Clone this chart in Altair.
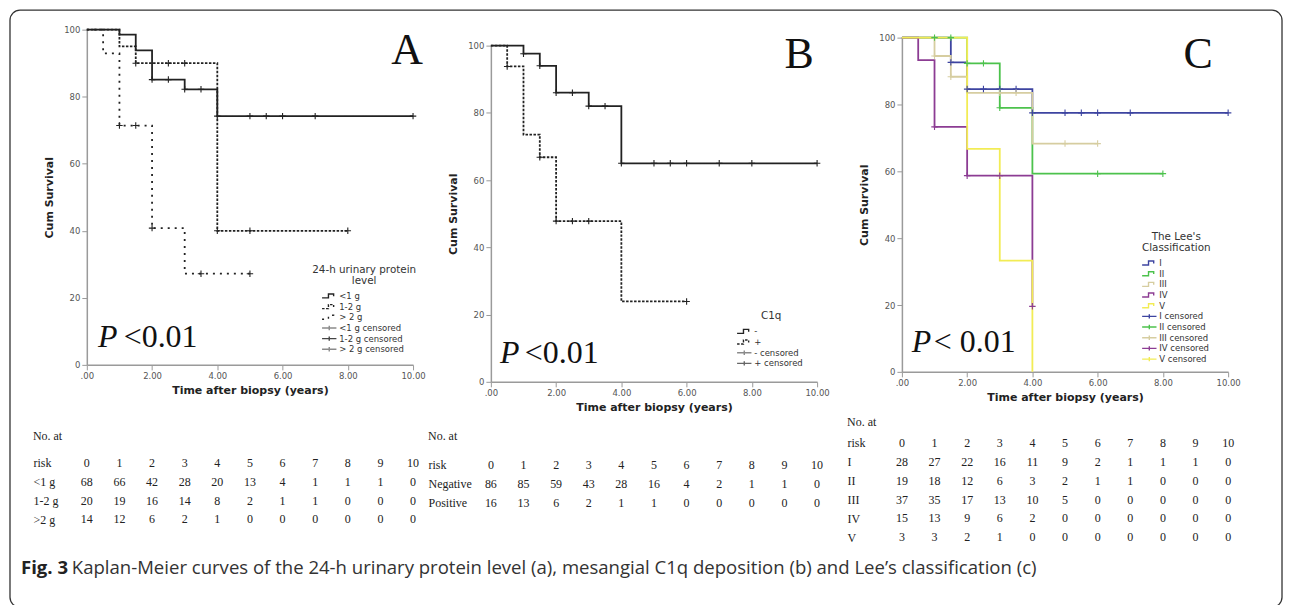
import altair as alt
import pandas as pd

# ---------------- Panel A : 24-h urinary protein level ----------------
A_lt1_time = [0, 1.0, 1.5, 2.0, 3.0, 4.0, 10.0]
A_lt1_surv = [100, 98.5, 93.8, 85.1, 82.2, 74.2, 74.2]
A_lt1_cens = [2.0, 2.5, 3.0, 3.5, 4.0, 5.0, 5.5, 6.0, 7.0, 10.0]
A_mid_time = [0, 1.0, 1.5, 4.0, 8.0]
A_mid_surv = [100, 95.0, 90.0, 40.0, 40.0]
A_mid_cens = [1.5, 2.5, 3.0, 4.0, 5.0, 8.0]
A_gt2_time = [0, 0.5, 1.0, 2.0, 3.0, 5.0]
A_gt2_surv = [100, 92.9, 71.4, 40.8, 27.2, 27.2]
A_gt2_cens = [1.0, 1.5, 2.0, 3.5, 5.0]
A_legend = ["<1 g", "1-2 g", "> 2 g", "<1 g censored", "1-2 g censored", "> 2 g censored"]
A_rows = ["<1 g", "1-2 g", ">2 g"]
A_risk_lt1 = [68, 66, 42, 28, 20, 13, 4, 1, 1, 1, 0]
A_risk_mid = [20, 19, 16, 14, 8, 2, 1, 1, 0, 0, 0]
A_risk_gt2 = [14, 12, 6, 2, 1, 0, 0, 0, 0, 0, 0]

# ---------------- Panel B : mesangial C1q ----------------
B_neg_time = [0, 1.0, 1.5, 2.0, 3.0, 4.0, 10.0]
B_neg_surv = [100, 97.6, 94.0, 86.0, 82.0, 65.0, 65.0]
B_neg_cens = [1.0, 1.5, 2.0, 2.5, 3.0, 3.5, 4.0, 5.0, 5.5, 6.0, 7.0, 8.0, 10.0]
B_pos_time = [0, 0.5, 1.0, 1.5, 2.0, 4.0, 6.0]
B_pos_surv = [100, 93.8, 73.5, 66.8, 47.8, 23.9, 23.9]
B_pos_cens = [0.5, 1.5, 2.0, 2.5, 3.0, 6.0]
B_legend = ["-", "+", "- censored", "+ censored"]
B_rows = ["Negative", "Positive"]
B_risk_neg = [86, 85, 59, 43, 28, 16, 4, 2, 1, 1, 0]
B_risk_pos = [16, 13, 6, 2, 1, 1, 0, 0, 0, 0, 0]

# ---------------- Panel C : Lee's classification ----------------
C_I_time = [0, 1.5, 2.0, 4.0, 10.0]
C_I_surv = [100, 92.6, 84.6, 77.5, 77.5]
C_I_cens = [1.5, 2.0, 2.5, 3.0, 3.5, 4.0, 5.0, 5.5, 6.0, 7.0, 10.0]
C_II_time = [0, 2.0, 3.0, 4.0, 8.0]
C_II_surv = [100, 92.3, 79.0, 59.3, 59.3]
C_II_cens = [1.0, 1.5, 2.0, 2.5, 3.0, 6.0, 8.0]
C_III_time = [0, 1.0, 1.5, 2.0, 4.0, 6.0]
C_III_surv = [100, 94.5, 88.3, 83.5, 68.3, 68.3]
C_III_cens = [1.0, 1.5, 3.0, 3.5, 5.0, 6.0]
C_IV_time = [0, 0.5, 1.0, 2.0, 4.0]
C_IV_surv = [100, 93.3, 73.3, 58.7, 19.6]
C_IV_cens = [1.0, 2.0, 3.0, 4.0]
C_V_time = [0, 2.0, 3.0, 4.0]
C_V_surv = [100, 66.7, 33.3, 0.0]
C_V_cens = []
C_legend = ["I", "II", "III", "IV", "V",
            "I censored", "II censored", "III censored", "IV censored", "V censored"]
C_rows = ["I", "II", "III", "IV", "V"]
C_risk_I = [28, 27, 22, 16, 11, 9, 2, 1, 1, 1, 0]
C_risk_II = [19, 18, 12, 6, 3, 2, 1, 1, 0, 0, 0]
C_risk_III = [37, 35, 17, 13, 10, 5, 0, 0, 0, 0, 0]
C_risk_IV = [15, 13, 9, 6, 2, 0, 0, 0, 0, 0, 0]
C_risk_V = [3, 3, 2, 1, 0, 0, 0, 0, 0, 0, 0]

YEARS = list(range(11))
CAPTION_FIG = "Fig. 3"
CAPTION_TEXT = ("Kaplan-Meier curves of the 24-h urinary protein level (a), mesangial C1q "
                "deposition (b) and Lee\u2019s classification (c)")

# ---------------- styling ----------------
STEP = "M-1.8,0.5L-0.2,0.5L-0.2,-0.5L1.1,-0.5L1.1,0.1"
PLUS = "M-1.8,0L1.8,0M0,-0.55L0,0.55"
CROSS = "M-1,0L1,0M0,-1L0,1"
SOLID = [1, 0]
FINE = [2.5, 1.5]
SPARSE = [2, 5]
PW = 327
ONE = pd.DataFrame({"k": [0]})


def surv_at(ts, ss, c):
    v = ss[0]
    for t, s in zip(ts, ss):
        if t <= c + 1e-9:
            v = s
    return v


def step_df(curves):
    recs = []
    for name, ts, ss, cs in curves:
        for i, (t, s) in enumerate(zip(ts, ss)):
            recs.append({"grp": name, "t": t, "s": s, "i": i})
    return pd.DataFrame(recs)


def cens_df(curves):
    recs = []
    for name, ts, ss, cs in curves:
        for c in cs:
            recs.append({"grp": name, "t": c, "s": surv_at(ts, ss, c)})
    return pd.DataFrame(recs, columns=["grp", "t", "s"])


def panel(curves, entries, colors, dashes, leg_title, leg_x, leg_y,
          letter, letter_pos, p_pos, rest_pos, rest_txt, chart_w, chart_h, top):
    xs = alt.Scale(domain=[0, 10], nice=False, zero=False, range=[0, PW])
    ys = alt.Scale(domain=[0, 100], nice=False, range=[chart_h, top])
    cs = alt.Scale(domain=entries, range=colors)
    ds = alt.Scale(domain=entries, range=dashes)
    n = len(curves)
    ss = alt.Scale(domain=entries, range=[STEP] * n + [PLUS] * n)
    xaxis = alt.Axis(title="Time after biopsy (years)", values=[0, 2, 4, 6, 8, 10],
                     labelExpr="datum.value == 0 ? '.00' : format(datum.value, '.2f')",
                     labelFlush=False, titlePadding=4, titleX=PW / 2)
    yaxis = alt.Axis(title="Cum Survival", values=[0, 20, 40, 60, 80, 100], titlePadding=9)
    leg = alt.Legend(title=leg_title, orient="none", legendX=leg_x, legendY=leg_y,
                     direction="vertical", titleFont="DejaVu Sans", titleFontSize=10.4,
                     titleFontWeight="normal", titleColor="#333", titleAnchor="middle",
                     titleAlign="center", titleLineHeight=10.5, titlePadding=5,
                     labelFont="DejaVu Sans", labelFontSize=8.5, labelColor="#333",
                     labelOffset=5, symbolSize=64, symbolStrokeWidth=1.4, rowPadding=0.7,
                     padding=0, symbolOpacity=1, symbolFillColor="transparent")

    # legend carrier (first, so its explicit legend settings lead the merge)
    legl = alt.Chart(pd.DataFrame({"grp": entries})).mark_point(filled=False, opacity=0).encode(
        color=alt.Color("grp:N", scale=cs, legend=leg),
        shape=alt.Shape("grp:N", scale=ss, legend=leg),
        strokeDash=alt.StrokeDash("grp:N", scale=ds, legend=leg),
    )
    lines = alt.Chart(step_df(curves)).mark_line(interpolate="step-after", strokeWidth=1.8).encode(
        x=alt.X("t:Q", scale=xs, axis=xaxis),
        y=alt.Y("s:Q", scale=ys, axis=yaxis),
        detail="grp:N",
        order="i:Q",
        color=alt.Color("grp:N", scale=cs),
        strokeDash=alt.StrokeDash("grp:N", scale=ds),
    )
    pts = alt.Chart(cens_df(curves)).mark_point(shape=CROSS, size=42, filled=False,
                                                strokeWidth=1.1, opacity=1).encode(
        x=alt.X("t:Q", scale=xs),
        y=alt.Y("s:Q", scale=ys),
        color=alt.Color("grp:N", scale=cs),
    )
    let = alt.Chart(ONE).mark_text(text=letter, font="Liberation Serif", fontSize=44,
                                   align="center", baseline="alphabetic", color="#111").encode(
        x=alt.XDatum(letter_pos[0], scale=xs),
        y=alt.YDatum(letter_pos[1], scale=ys),
    )
    p1 = alt.Chart(ONE).mark_text(text="P", font="Liberation Serif", fontSize=32, fontStyle="italic",
                                  align="left", baseline="alphabetic", color="#111").encode(
        x=alt.XDatum(p_pos[0], scale=xs),
        y=alt.YDatum(p_pos[1], scale=ys),
    )
    p2 = alt.Chart(ONE).mark_text(text=rest_txt, font="Liberation Serif", fontSize=32,
                                  align="left", baseline="alphabetic", color="#111").encode(
        x=alt.XDatum(rest_pos, scale=xs),
        y=alt.YDatum(p_pos[1], scale=ys),
    )
    return alt.layer(legl, lines, pts, let, p1, p2).properties(width=chart_w, height=chart_h)


def table(rows, risks, label_pad, band_top, title_off, chart_w):
    order = ["risk"] + rows
    recs = [{"row": "risk", "t": k, "v": str(k)} for k in YEARS]
    for r, vals in zip(rows, risks):
        for k, v in zip(YEARS, vals):
            recs.append({"row": r, "t": k, "v": str(v)})
    h = band_top + 19 * len(order)
    return alt.Chart(pd.DataFrame(recs)).mark_text(
        font="Liberation Serif", fontSize=12, color="#222", baseline="middle", align="center"
    ).encode(
        x=alt.X("t:Q", scale=alt.Scale(domain=[0, 10], nice=False, range=[0, PW]), axis=None),
        y=alt.Y("row:N", sort=order,
                scale=alt.Scale(paddingInner=0, paddingOuter=0, range=[band_top, h]),
                axis=alt.Axis(title=None, domain=False, ticks=False, tickSize=0,
                              labelAlign="left", labelBaseline="middle", labelPadding=label_pad,
                              labelFont="Liberation Serif", labelFontSize=12,
                              labelColor="#222", labelLimit=200)),
        text="v:N",
    ).properties(
        width=chart_w, height=h,
        title=alt.TitleParams("No. at", anchor="start", frame="group", dx=-label_pad,
                              offset=title_off, font="Liberation Serif", fontSize=12,
                              fontWeight="normal", color="#222"),
    )


# ---------------- panels ----------------
curvesA = [("<1 g", A_lt1_time, A_lt1_surv, A_lt1_cens),
           ("1-2 g", A_mid_time, A_mid_surv, A_mid_cens),
           ("> 2 g", A_gt2_time, A_gt2_surv, A_gt2_cens)]
plotA = panel(curvesA, A_legend,
              ["#222", "#222", "#222", "#8a8a8a", "#444", "#8a8a8a"],
              [SOLID, FINE, SPARSE, SOLID, SOLID, SOLID],
              ["24-h urinary protein", "level"], 226, 236,
              "A", (9.82, 89.9), (0.34, 5.4), 1.13, "<0.01", PW, 336, 0)
tabA = table(A_rows, [A_risk_lt1, A_risk_mid, A_risk_gt2], 54, 41.5, -31.5, PW)

curvesB = [("-", B_neg_time, B_neg_surv, B_neg_cens),
           ("+", B_pos_time, B_pos_surv, B_pos_cens)]
plotB = panel(curvesB, B_legend,
              ["#222", "#222", "#8a8a8a", "#666"],
              [SOLID, FINE, SOLID, SOLID],
              "C1q", 249, 282,
              "B", (9.45, 93.2), (0.28, 5.6), 1.04, "<0.01", 334, 353, 16)
tabB = table(B_rows, [B_risk_neg, B_risk_pos], 63, 43.5, -31.5, 334)

curvesC = [("I", C_I_time, C_I_surv, C_I_cens),
           ("II", C_II_time, C_II_surv, C_II_cens),
           ("III", C_III_time, C_III_surv, C_III_cens),
           ("IV", C_IV_time, C_IV_surv, C_IV_cens),
           ("V", C_V_time, C_V_surv, C_V_cens)]
C_colors = ["#3d44a0", "#4cc24c", "#d6cda0", "#8c3c93", "#f2ec55"]
plotC = panel(curvesC, C_legend, C_colors + C_colors, [SOLID] * 10,
              ["The Lee's", "Classification"], 241, 203,
              "C", (9.08, 91.0), (0.30, 6.0), 0.98, "< 0.01", PW, 343, 8)
tabC = table(C_rows, [C_risk_I, C_risk_II, C_risk_III, C_risk_IV, C_risk_V], 55, 21.5, -17.5, PW)

# caption row, plus the rounded frame that surrounds the whole figure
caption = alt.layer(
    alt.Chart(ONE).mark_rect(filled=False, color="#333", strokeWidth=1.3, cornerRadius=10).encode(
        x=alt.value(-77), x2=alt.value(1198), y=alt.value(-568.5), y2=alt.value(30)),
    alt.Chart(ONE).mark_text(text=CAPTION_FIG, font="Open Sans", fontSize=18.6, fontWeight="bold",
                             align="left", baseline="alphabetic", color="#222").encode(
        x=alt.value(-66), y=alt.value(-3.5)),
    alt.Chart(ONE).mark_text(text=CAPTION_TEXT, font="Open Sans", fontSize=18.6,
                             align="left", baseline="alphabetic", color="#333").encode(
        x=alt.value(-15), y=alt.value(-3.5)),
).properties(width=PW, height=20)

chart = alt.concat(
    plotA, plotB, plotC, tabA, tabB, tabC, caption,
    columns=3, spacing={"row": 30, "column": 78}, align="each", bounds="flush",
).resolve_scale(
    color="independent", shape="independent", strokeDash="independent"
).resolve_legend(
    color="independent", shape="independent", strokeDash="independent"
).properties(
    padding={"left": 0, "top": 0, "right": 0, "bottom": 0}, background="white"
).configure_view(stroke="transparent").configure_axis(
    domainColor="#9a9a9a", domainWidth=1.5, tickColor="#9a9a9a", tickWidth=1, tickSize=5,
    labelFont="DejaVu Sans", labelFontSize=8.5, labelColor="#555", labelPadding=2,
    titleFont="DejaVu Sans", titleFontSize=11, titleFontWeight="bold", titleColor="#222",
    grid=False,
)

chart.save("out.html", embed_options={"renderer": "svg", "actions": False})
